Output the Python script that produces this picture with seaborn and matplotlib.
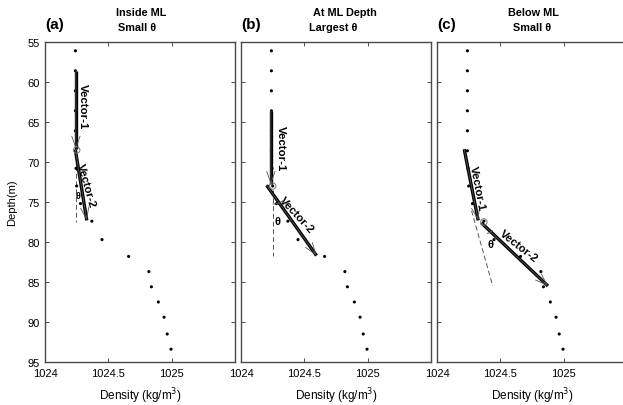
import numpy as np
import pandas as pd
import matplotlib
matplotlib.use("Agg")
import matplotlib.pyplot as plt
from matplotlib.patches import Arc
import seaborn as sns

# ---- data ----
depth = [56.1, 58.6, 61.1, 63.6, 66.1, 68.6, 70.8, 73.0, 75.2, 77.4,
         79.7, 81.8, 83.7, 85.6, 87.5, 89.4, 91.5, 93.4]
density = [1024.24, 1024.24, 1024.24, 1024.24, 1024.24, 1024.24, 1024.245,
           1024.25, 1024.28, 1024.37, 1024.45, 1024.66, 1024.82, 1024.84,
           1024.895, 1024.94, 1024.965, 1024.995]

panel_letters = ["(a)", "(b)", "(c)"]
panel_line1 = ["Inside ML", "At ML Depth", "Below ML"]
panel_line2 = ["Small θ", "Largest θ", "Small θ"]

# vector-1 (start, end) and vector-2 (start, end): (density, depth)
vec1 = [((1024.244, 58.6), (1024.244, 68.4)),
        ((1024.236, 63.6), (1024.236, 72.8)),
        ((1024.215, 68.4), (1024.325, 77.3))]
vec2 = [((1024.240, 68.5), (1024.330, 77.3)),
        ((1024.202, 72.9), (1024.596, 81.7)),
        ((1024.350, 77.6), (1024.876, 85.5))]
junction = [(1024.250, 68.5), (1024.250, 73.0), (1024.370, 77.5)]
dashed = [((1024.244, 68.5), (1024.244, 77.5)),
          ((1024.250, 73.5), (1024.250, 81.8)),
          ((1024.273, 76.1), (1024.440, 85.5))]
theta_pos = [(1024.262, 74.2), (1024.285, 77.4), (1024.42, 80.2)]
v1_label = [(1024.300, 63.0, -90), (1024.312, 68.2, -90), (1024.318, 73.2, -79)]
v2_label = [(1024.322, 72.9, -74), (1024.440, 76.6, -47), (1024.646, 80.5, -38)]

xticks = [1024, 1024.5, 1025]
xticklabels = ["1024", "1024.5", "1025"]
yticks = [55, 60, 65, 70, 75, 80, 85, 90, 95]

df = pd.DataFrame({"density": density, "depth": depth})

sns.set_style("ticks")
plt.rcParams["font.family"] = ["Liberation Sans", "DejaVu Sans"]
plt.rcParams["text.color"] = "black"
plt.rcParams["axes.labelcolor"] = "black"
plt.rcParams["xtick.labelcolor"] = "black"
plt.rcParams["ytick.labelcolor"] = "black"

W, H = 623, 406
fig = plt.figure(figsize=(W / 100, H / 100), dpi=100)

lefts = [45, 241, 437]
pw = 190
top_px, bot_px = 43, 363
spine_col = "#4a4a4a"
thin_col = "#555555"

for i in range(3):
    ax = fig.add_axes([lefts[i] / W, (H - bot_px) / H, pw / W, (bot_px - top_px) / H])
    ax.set_facecolor("white")
    sns.scatterplot(data=df, x="density", y="depth", ax=ax, color="black",
                    s=5, marker="o", edgecolor="none", legend=False, zorder=3)

    # vectors
    for (s, e) in (vec1[i], vec2[i]):
        ax.plot([s[0], e[0]], [s[1], e[1]], color="black", lw=2.4,
                solid_capstyle="butt", zorder=4)
        ax.annotate("", xy=e, xytext=s,
                    arrowprops=dict(arrowstyle="->,head_length=0.85,head_width=0.3",
                                    lw=0.6, color=thin_col, shrinkA=0, shrinkB=0,
                                    mutation_scale=10), zorder=5)
    # dashed extension
    (ds, de) = dashed[i]
    ax.plot([ds[0], de[0]], [ds[1], de[1]], color=thin_col, lw=0.7,
            ls=(0, (5, 3)), zorder=2)
    # junction circle
    ax.scatter([junction[i][0]], [junction[i][1]], s=22, facecolors="none",
               edgecolors="#777777", linewidths=0.7, zorder=6)

    ax.set_xlim(1024, 1025.5)
    ax.set_ylim(95, 55)

    # angle arc (angles in data space, since Arc stretches them)
    jx, jy = junction[i]
    pxx = pw / 1.5
    pxy = (bot_px - top_px) / 40.0
    r_px = [8, 18, 12][i]
    t1 = np.degrees(np.arctan2(vec2[i][1][1] - vec2[i][0][1], vec2[i][1][0] - vec2[i][0][0]))
    t2 = np.degrees(np.arctan2(dashed[i][1][1] - dashed[i][0][1], dashed[i][1][0] - dashed[i][0][0]))
    ax.add_patch(Arc((jx, jy), 2 * r_px / pxx, 2 * r_px / pxy, theta1=min(t1, t2),
                     theta2=max(t1, t2), color=thin_col, lw=0.7, zorder=5))

    # labels
    tx, ty = theta_pos[i]
    ax.text(tx, ty, "θ", fontsize=[6.5, 8, 8][i], ha="center", va="center",
            fontweight="bold", zorder=7)
    x1, y1, r1 = v1_label[i]
    ax.text(x1, y1, "Vector-1", rotation=r1, rotation_mode="anchor",
            ha="center", va="center", fontsize=8.2, fontweight="bold", zorder=7)
    x2, y2, r2 = v2_label[i]
    ax.text(x2, y2, "Vector-2", rotation=r2, rotation_mode="anchor",
            ha="center", va="center", fontsize=8.2, fontweight="bold", zorder=7)

    ax.set_xticks(xticks)
    ax.set_xticklabels(xticklabels)
    ax.set_yticks(yticks)
    if i == 0:
        ax.set_yticklabels([str(v) for v in yticks])
        ax.set_ylabel("Depth(m)", fontsize=8, labelpad=7)
    else:
        ax.set_yticklabels([])
        ax.set_ylabel("")
    ax.set_xlabel("Density (kg/m$^3$)", fontsize=8.5, labelpad=6)
    ax.tick_params(direction="in", length=3, width=0.7, color=spine_col,
                   labelsize=8, labelcolor="black", top=True, right=True, pad=4)
    for sp in ax.spines.values():
        sp.set_visible(True)
        sp.set_color(spine_col)
        sp.set_linewidth(1.0)

    fig.text((lefts[i] + 10) / W, 1 - 25 / H, panel_letters[i], fontsize=11,
             fontweight="bold", ha="center", va="center")
    l1x = [141, 345, 533][i]
    l2x = [137, 333, 532][i]
    fig.text(l1x / W, 1 - 13 / H, panel_line1[i], fontsize=7.8, fontweight="bold",
             ha="center", va="center")
    fig.text(l2x / W, 1 - 28 / H, panel_line2[i], fontsize=7.8, fontweight="bold",
             ha="center", va="center")

fig.savefig("out.png", dpi=100, facecolor="white")
